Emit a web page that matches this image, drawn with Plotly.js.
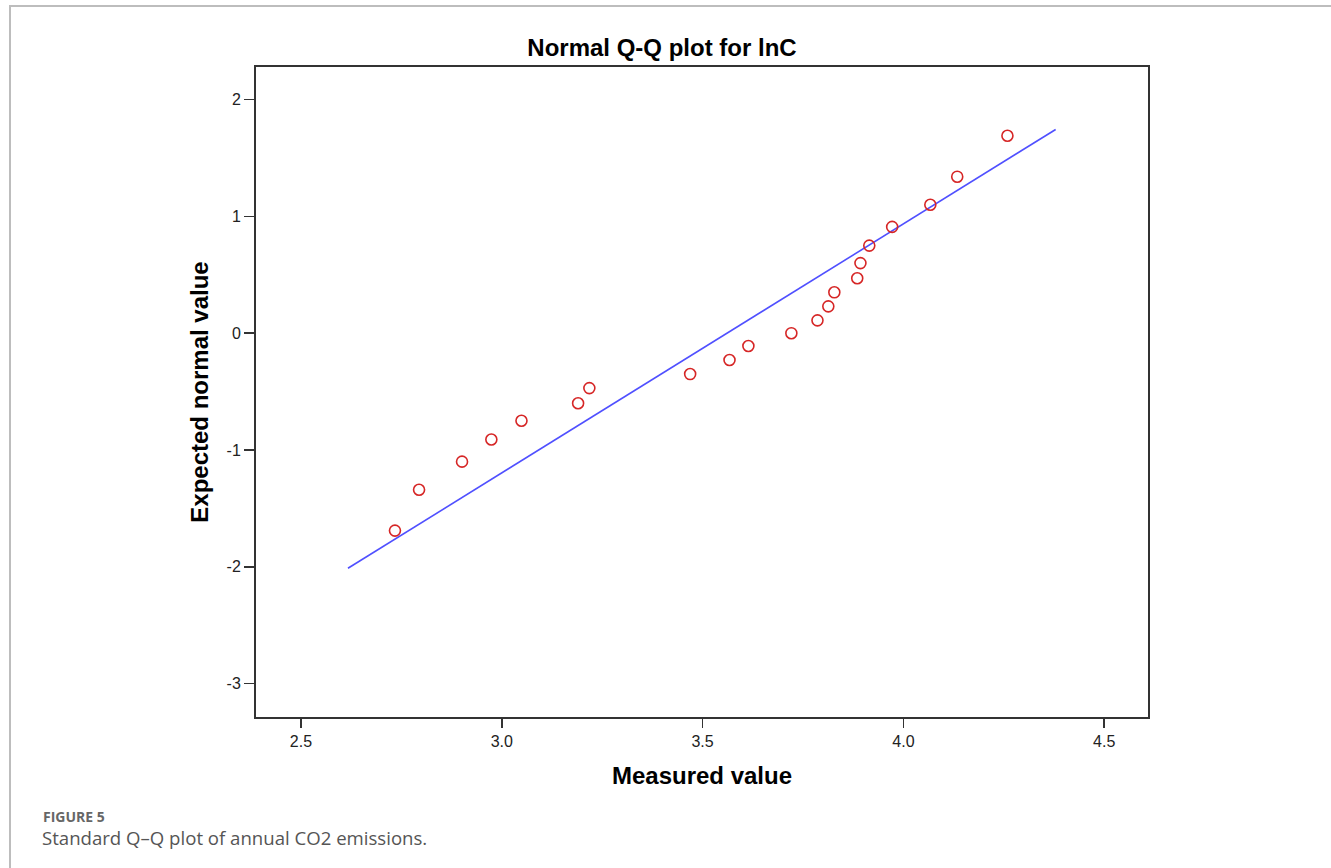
<!DOCTYPE html>
<html>
<head>
<meta charset="utf-8">
<script src="https://cdn.plot.ly/plotly-3.0.1.min.js"></script>
<style>
  html, body { margin: 0; padding: 0; background: #fff; }
  #wrap { position: relative; width: 1331px; height: 868px; overflow: hidden; }
  #frame { position: absolute; left: 9px; top: 5px; right: -4px; bottom: -4px;
           border-left: 2px solid #bdbdbd; border-top: 2px solid #bdbdbd; pointer-events: none; }
  #chart { position: absolute; left: 0; top: 0; width: 1331px; height: 868px; }
</style>
</head>
<body>
<div id="wrap">
  <div id="chart"></div>
  <div id="frame"></div>
</div>
<script>
// Measured lnC values (sorted) and their expected normal scores
const measured = [2.734, 2.794, 2.901, 2.974, 3.049, 3.190, 3.218, 3.469, 3.567, 3.614, 3.721,
                  3.786, 3.813, 3.828, 3.885, 3.893, 3.915, 3.972, 4.067, 4.134, 4.259];
const expectedNormal = [-1.69, -1.34, -1.10, -0.91, -0.75, -0.60, -0.47, -0.35, -0.23, -0.11, 0.00,
                        0.11, 0.23, 0.35, 0.47, 0.60, 0.75, 0.91, 1.10, 1.34, 1.69];

// Reference normal line: z = (x - mean) / sd, drawn over this x span
const fitMean = 3.561;
const fitSd = 0.469;
const lineX = [2.617, 4.379];
const lineY = lineX.map(x => (x - fitMean) / fitSd);

const xTicks = [2.5, 3.0, 3.5, 4.0, 4.5];
const yTicks = [2, 1, 0, -1, -2, -3];

const W = 1331, H = 868;
const M = { l: 256, r: 183, t: 67, b: 151 };
const plotW = W - M.l - M.r, plotH = H - M.t - M.b;
const px = x => (x - M.l) / plotW;          // pixel -> paper x
const py = y => (H - M.b - y) / plotH;      // pixel -> paper y

const axisFont = { family: 'Liberation Sans, Arial, sans-serif', size: 16, color: '#222' };
const titleFont = { family: 'Liberation Sans, Arial, sans-serif', size: 24, color: '#000', weight: 'bold' };

const traces = [
  {
    x: lineX, y: lineY, type: 'scatter', mode: 'lines',
    line: { color: '#5050ff', width: 1.6 }, hoverinfo: 'skip'
  },
  {
    x: measured, y: expectedNormal, type: 'scatter', mode: 'markers',
    marker: { symbol: 'circle-open', size: 11, color: '#d62626', line: { width: 1.6, color: '#d62626' } }
  }
];

const layout = {
  width: W, height: H,
  margin: M,
  paper_bgcolor: '#fff', plot_bgcolor: '#fff',
  showlegend: false,
  title: {
    text: 'Normal Q-Q plot for lnC',
    font: titleFont,
    xref: 'container', yref: 'container',
    x: 662 / W, y: 1 - 48 / H, xanchor: 'center', yanchor: 'middle'
  },
  xaxis: {
    range: [2.388, 4.609],
    tickvals: xTicks, ticktext: xTicks.map(v => v.toFixed(1)),
    ticks: 'outside', ticklen: 9, tickwidth: 1.5, tickcolor: '#333',
    showline: true, linecolor: '#333', linewidth: 2, mirror: true,
    showgrid: false, zeroline: false,
    tickfont: axisFont,
    title: { text: 'Measured value', font: titleFont, standoff: 18 }
  },
  yaxis: {
    range: [-3.286, 2.279],
    tickvals: yTicks, ticktext: yTicks.map(String),
    ticks: 'outside', ticklen: 10, tickwidth: 1.5, tickcolor: '#333',
    showline: true, linecolor: '#333', linewidth: 2, mirror: true,
    showgrid: false, zeroline: false,
    tickfont: axisFont,
    title: { text: 'Expected normal value', font: titleFont, standoff: 11 }
  },
  annotations: [
    {
      xref: 'paper', yref: 'paper', x: px(41), y: py(817), xanchor: 'left', yanchor: 'middle',
      text: '<b>FIGURE 5</b>', showarrow: false,
      font: { family: 'Open Sans, Noto Sans, sans-serif', size: 14, color: '#666' }
    },
    {
      xref: 'paper', yref: 'paper', x: px(40), y: py(837), xanchor: 'left', yanchor: 'middle',
      text: 'Standard Q–Q plot of annual CO2 emissions.', showarrow: false,
      font: { family: 'Open Sans, Noto Sans, sans-serif', size: 18.6, color: '#555' }
    }
  ]
};

Plotly.newPlot('chart', traces, layout, { displayModeBar: false, staticPlot: true });
</script>
</body>
</html>
